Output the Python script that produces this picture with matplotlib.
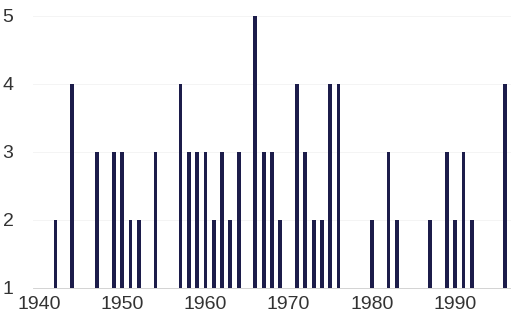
import matplotlib
matplotlib.use("Agg")
import matplotlib.pyplot as plt

years = [1942, 1944, 1947, 1949, 1950, 1951, 1952, 1954, 1957, 1958,
         1959, 1960, 1961, 1962, 1963, 1964, 1966, 1967, 1968, 1969,
         1971, 1972, 1973, 1974, 1975, 1976, 1980, 1982, 1983, 1987,
         1989, 1990, 1991, 1992, 1996]
counts = [2, 4, 3, 3, 3, 2, 2, 3, 4, 3,
          3, 3, 2, 3, 2, 3, 5, 3, 3, 2,
          4, 3, 2, 2, 4, 4, 2, 3, 2, 2,
          3, 2, 3, 2, 4]
xticks = [1940, 1950, 1960, 1970, 1980, 1990]
yticks = [1, 2, 3, 4, 5]

plt.rcParams['font.family'] = ['Liberation Sans', 'DejaVu Sans']

fig = plt.figure(figsize=(5.11, 3.15), dpi=100)
ax = fig.add_axes([33/511, 27/315, 478/511, 272/315])

base = 1
ax.bar(years, [c - base for c in counts], bottom=base, width=0.45,
       color='#1c1c4a', zorder=3)

ax.set_xlim(1939.3, 1996.7)
ax.set_ylim(1, 5)
ax.set_xticks(xticks)
ax.set_yticks(yticks)
ax.tick_params(axis='both', length=0, labelsize=14, colors='#333333')
ax.tick_params(axis='y', pad=14)
ax.tick_params(axis='x', pad=6)
for lbl in ax.get_yticklabels():
    lbl.set_horizontalalignment('right')

for s in ['top', 'right', 'left']:
    ax.spines[s].set_visible(False)
ax.spines['bottom'].set_color('#cccccc')
ax.spines['bottom'].set_linewidth(0.6)
ax.yaxis.grid(True, color='#f2f2f2', linewidth=0.6)
ax.set_axisbelow(True)

fig.savefig("out.png", dpi=100)
